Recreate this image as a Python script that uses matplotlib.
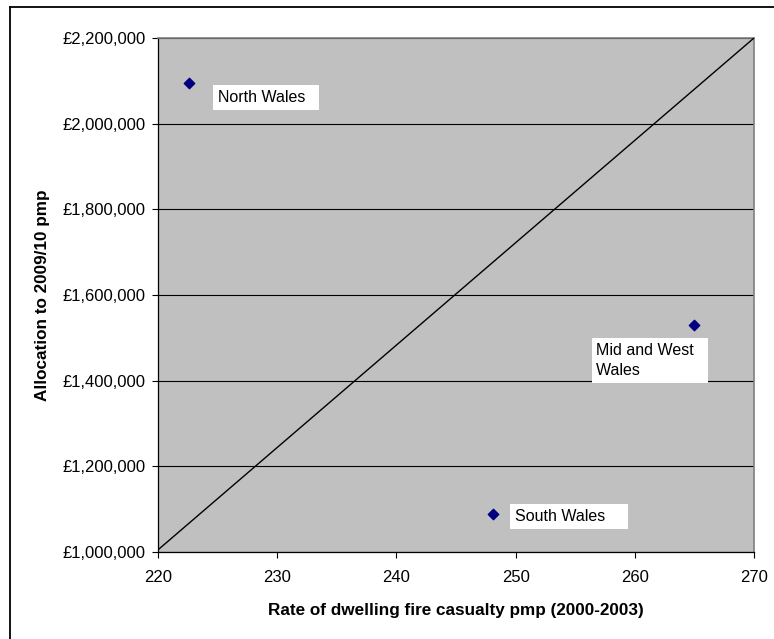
import matplotlib
matplotlib.use("Agg")
import matplotlib.pyplot as plt
from matplotlib.ticker import FuncFormatter
from matplotlib.lines import Line2D

plt.rcParams["font.family"] = ["Liberation Sans", "DejaVu Sans"]

# Fire and rescue authorities
regions = ["North Wales", "Mid and West\nWales", "South Wales"]
casualty_rate = [222.6, 265.0, 248.1]          # dwelling fire casualties pmp (2000-2003)
allocation = [2096000, 1531000, 1088000]       # allocation to 2009/10 pmp (£)

# Reference line across the chart
ref_x = [220, 270]
ref_y = [1005000, 2200000]

x_ticks = [220, 230, 240, 250, 260, 270]
y_ticks = [1000000, 1200000, 1400000, 1600000, 1800000, 2000000, 2200000]

# label placement (offset in pixels from the point, left-aligned text) and right padding
label_offsets = [(29, -15), (-98, -36), (22, -2)]
label_trailing = [2, 2, 4]

fig = plt.figure(figsize=(7.74, 6.39), dpi=100)
ax = fig.add_axes([158 / 774, 1 - 552 / 639, (754 - 158) / 774, (552 - 38) / 639])
ax.set_facecolor("#C0C0C0")

# outer chart frame
fig.add_artist(Line2D([10 / 774, 10 / 774], [0, 1 - 7 / 639], transform=fig.transFigure,
                      color="black", lw=1.3))
fig.add_artist(Line2D([10 / 774, 1], [1 - 7 / 639, 1 - 7 / 639], transform=fig.transFigure,
                      color="black", lw=1.3))

ax.set_xlim(220, 270)
ax.set_ylim(1000000, 2200000)
ax.set_xticks(x_ticks)
ax.set_yticks(y_ticks)
ax.yaxis.set_major_formatter(FuncFormatter(lambda v, p: "£{:,.0f}".format(v)))

ax.grid(axis="y", color="black", lw=0.8)
ax.set_axisbelow(True)

for side in ("top", "right"):
    ax.spines[side].set_color("#808080")
    ax.spines[side].set_linewidth(1.2)
for side in ("left", "bottom"):
    ax.spines[side].set_color("black")
    ax.spines[side].set_linewidth(0.9)

ax.tick_params(axis="both", direction="out", length=4, width=0.8, labelsize=12,
               colors="black")
ax.tick_params(axis="y", pad=5)
ax.tick_params(axis="x", pad=9)

ax.plot(ref_x, ref_y, color="black", lw=1.0, zorder=3)
ax.scatter(casualty_rate, allocation, marker="D", s=28, color="#000080", zorder=4)

for name, xv, yv, off, trail in zip(regions, casualty_rate, allocation, label_offsets,
                                    label_trailing):
    lines = name.split("\n")
    width = max(len(l) for l in lines)
    padded = "\n".join(l.ljust(width) + " " * trail for l in lines)
    ax.annotate(padded, (xv, yv), xytext=off, textcoords="offset pixels",
                ha="left", va="center", fontsize=11.5, linespacing=1.4,
                bbox=dict(boxstyle="square,pad=0.3", fc="white", ec="none"), zorder=5)

ax.set_xlabel("Rate of dwelling fire casualty pmp (2000-2003)", fontsize=12.3,
              fontweight="bold", labelpad=13)
ax.set_ylabel("Allocation to 2009/10 pmp", fontsize=12.3, fontweight="bold", labelpad=9)

fig.savefig("out.png", dpi=100)
